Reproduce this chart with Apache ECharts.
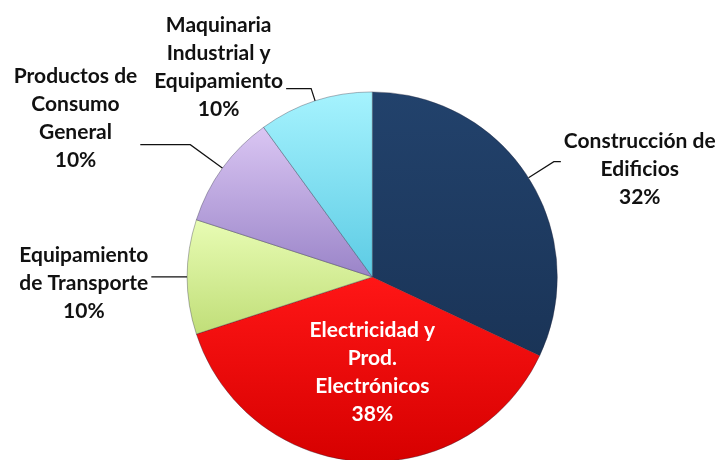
<!DOCTYPE html>
<html>
<head>
<meta charset="utf-8">
<title>Sectores</title>
<script src="https://cdn.jsdelivr.net/npm/echarts@6/dist/echarts.min.js"></script>
<style>
  html,
  body {
    margin: 0;
    padding: 0;
    background: #fff;
  }

  #sector-pie {
    width: 716px;
    height: 460px;
  }
</style>
</head>
<body>
<section id="sector-pie"></section>
<script>
// categorías, con los saltos de línea de la etiqueta original
const categories = [
  'Construcción de\nEdificios',
  'Electricidad y\nProd.\nElectrónicos',
  'Equipamiento\nde Transporte',
  'Productos de\nConsumo\nGeneral',
  'Maquinaria\nIndustrial y\nEquipamiento',
];
const percents = [32, 38, 10, 10, 10];

// degradado de cada sector: claro arriba, oscuro abajo
const topColors = ['#22426c', '#ff1616', '#e8fcb4', '#dac6f3', '#a6f3fe'];
const bottomColors = ['#1a3457', '#d60000', '#c0de78', '#9a84c8', '#5ccbe4'];

// líneas guía de las etiquetas exteriores
const guideLength = [30, 0, 8, 40, 13];
const guideLength2 = [7, 0, 28, 50, 25];
const labelPadding = [[16, 0, 0, 0], [0, 0, 0, 12], [12, 0, 0, 0], [0, 0, 52, 0], [0, 0, 43, 0]];

const FONT = 'Lato, "Open Sans", sans-serif';

/**
 * texto de la etiqueta, cada línea centrada
 */
const labelText = (name, value) => {
  const lines = name.split('\n').concat([value + '%']);
  return lines.map((l) => '{t|' + l + '}').join('\n');
};

const seriesData = categories.map((name, i) => {
  const inside = i === 1;
  return {
    name,
    value: percents[i],
    itemStyle: {
      color: new echarts.graphic.LinearGradient(0, 0, 0, 1, [
        { offset: 0, color: topColors[i] },
        { offset: 1, color: bottomColors[i] },
      ]),
    },
    label: {
      position: inside ? 'inside' : 'outside',
      padding: labelPadding[i],
      rich: {
        t: {
          align: 'center',
          fontFamily: FONT,
          fontWeight: 'bold',
          fontSize: 21,
          lineHeight: 28,
          color: inside ? '#fff' : '#111',
        },
      },
    },
    labelLine: {
      show: !inside,
      length: guideLength[i],
      length2: guideLength2[i],
    },
  };
});

const option = {
  backgroundColor: '#fff',
  animation: false,
  series: [
    {
      type: 'pie',
      center: ['52%', '60.2%'],
      radius: 185,
      startAngle: 90,
      clockwise: true,
      avoidLabelOverlap: false,
      itemStyle: {
        borderColor: 'rgba(40,40,60,0.35)',
        borderWidth: 1,
      },
      label: {
        show: true,
        distanceToLabelLine: 3,
        formatter: (p) => labelText(p.name, p.value),
      },
      labelLine: {
        lineStyle: {
          color: '#111',
          width: 1.2,
        },
      },
      data: seriesData,
    },
  ],
};

const chart = echarts.init(document.getElementById('sector-pie'));
chart.setOption(option);
</script>
</body>
</html>
